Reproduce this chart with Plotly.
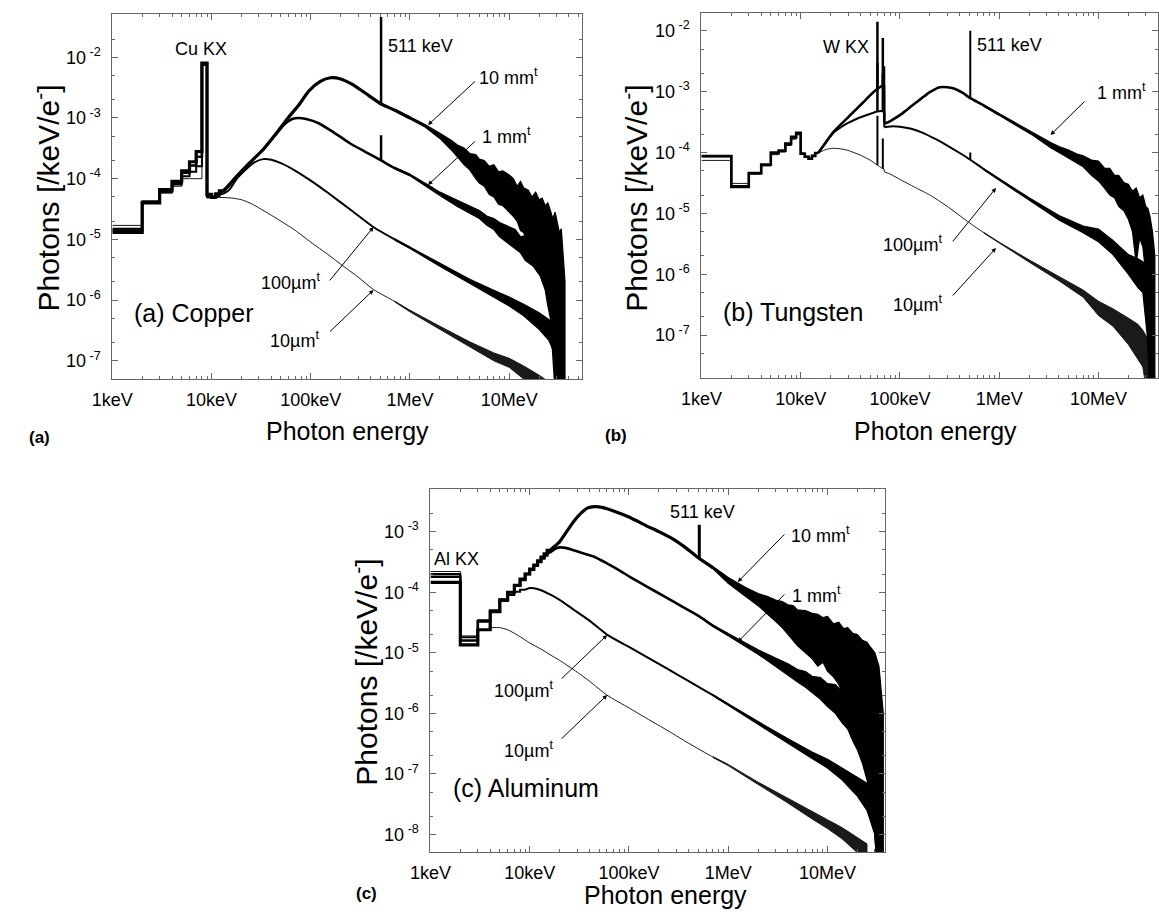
import plotly.graph_objects as go

W, H = 1159, 915
FONT = "Liberation Sans, Arial, Helvetica, sans-serif"

# ===================== DATA (energy in keV, spectrum in photons /keV/e-) =====================
# ---------- (a) Copper ----------
A_step_E = [1, 2, 3, 4, 5, 6, 7, 8, 9, 10, 11, 12, 13]
A10mm_step = [1.3e-5, 4.0e-5, 6.6e-5, 9.0e-5, 1.35e-4, 1.9e-4, 2.8e-4, 8.0e-3, 5.5e-5, 5.0e-5, 5.6e-5, 6.3e-5]
A1mm_step = [1.4e-5, 4.1e-5, 6.3e-5, 8.5e-5, 1.25e-4, 1.65e-4, 2.3e-4, 7.8e-3, 5.3e-5, 5.0e-5, 5.5e-5, 6.1e-5]
A100um_step = [1.5e-5, 4.2e-5, 6.0e-5, 8.0e-5, 1.1e-4, 1.3e-4, 1.6e-4, 7.6e-3, 5.0e-5, 4.8e-5, 5.2e-5, 5.6e-5]
A10um_step = [1.7e-5, 4.3e-5, 5.8e-5, 7.5e-5, 1.0e-4, 1.0e-4, 1.0e-4, 7.3e-3, 4.8e-5, 4.8e-5, 4.9e-5, 4.9e-5]

A10mm_E = [13, 14, 18, 24, 33, 45, 59, 75, 96, 125, 158, 200, 260, 350, 511, 700, 1000]
A10mm_V = [6.3e-5, 7.0e-5, 1.1e-4, 1.8e-4, 3.0e-4, 5.6e-4, 1.0e-3, 1.6e-3, 2.8e-3, 4.0e-3, 4.6e-3, 4.4e-3,
           3.6e-3, 2.6e-3, 1.7e-3, 1.35e-3, 1.0e-3]
A10mm_tE = [700, 1000, 1400, 2000, 2600, 3000, 3500, 4000, 4600, 5000, 5600, 6300, 7000, 7800, 8600, 10000,
            11000, 12000, 13000, 14000, 15500, 17000, 18500, 20000, 21500, 23000, 24500, 26000, 27500, 29000,
            30500, 32000, 33500, 35000, 36500]
A10mm_hi = [1.4e-3, 1.04e-3, 7.9e-4, 5.6e-4, 4.3e-4, 3.6e-4, 3.2e-4, 2.6e-4, 2.5e-4, 2.1e-4, 2.0e-4, 1.6e-4,
            1.7e-4, 1.3e-4, 1.35e-4, 1.15e-4, 1.0e-4, 7.5e-5, 9e-5, 7e-5, 6.5e-5, 5e-5, 6e-5, 4.5e-5, 4.8e-5,
            3.6e-5, 4e-5, 3e-5, 2.2e-5, 2.8e-5, 1.8e-5, 1.3e-5, 1.5e-5, 6e-6, 2e-6]
A10mm_lo = [1.3e-3, 9.6e-4, 7.2e-4, 4.6e-4, 3.0e-4, 2.3e-4, 1.7e-4, 1.4e-4, 1.0e-4, 8.5e-5, 7.5e-5, 5.5e-5,
            5e-5, 3.8e-5, 3.6e-5, 2.8e-5, 2.4e-5, 2.0e-5, 1.4e-5, 1.3e-5, 8e-6, 6e-6, 4e-6, 3e-6, 2e-6,
            1.5e-6, 8e-7, 5e-7, 1e-7, 3e-8, 1e-8, 1e-8, 1e-8, 1e-8, 1e-8]

A1mm_E = [13, 14, 18, 24, 33, 45, 55, 65, 75, 90, 120, 170, 250, 350, 511, 700, 1000]
A1mm_V = [6.1e-5, 6.8e-5, 1.1e-4, 1.8e-4, 3.0e-4, 5.5e-4, 8.0e-4, 9.6e-4, 1.0e-3, 9.6e-4, 8.2e-4, 5.8e-4,
          3.8e-4, 2.8e-4, 2.0e-4, 1.5e-4, 1.15e-4]
A1mm_tE = [700, 1000, 1500, 2000, 3000, 4000, 5000, 6000, 7000, 8000, 10000, 11500, 13000, 14500, 16000,
           17500, 19000, 20500, 22000, 24000, 26000, 28000, 30000, 32000, 34000]
A1mm_hi = [1.53e-4, 1.18e-4, 8.0e-5, 6.0e-5, 4.4e-5, 3.5e-5, 3.0e-5, 2.4e-5, 2.2e-5, 1.9e-5, 1.6e-5,
           1.45e-5, 1.1e-5, 1.15e-5, 8e-6, 7e-6, 9e-6, 8e-6, 1.1e-5, 9e-6, 1.1e-5, 7e-6, 8e-6, 4e-6, 1e-6]
A1mm_lo = [1.47e-4, 1.12e-4, 7.3e-5, 5.3e-5, 3.5e-5, 2.7e-5, 2.2e-5, 1.7e-5, 1.45e-5, 1.1e-5, 8.5e-6,
           7e-6, 6e-6, 4.5e-6, 4e-6, 3.6e-6, 3e-6, 2.5e-6, 2e-6, 1.2e-6, 8e-7, 3e-7, 5e-8, 2e-8, 1e-8]

A100um_E = [13, 15, 18, 22, 27, 33, 40, 50, 70, 100, 150, 250, 427, 700, 1000]
A100um_V = [5.6e-5, 6.5e-5, 1.0e-4, 1.4e-4, 1.85e-4, 2.1e-4, 2.05e-4, 1.8e-4, 1.35e-4, 9.3e-5, 5.8e-5,
            3.1e-5, 1.6e-5, 1.0e-5, 7.3e-6]
A100um_tE = [700, 1000, 2000, 4000, 7000, 10000, 14000, 20000, 25000, 30000, 33000, 35000]
A100um_hi = [1.02e-5, 7.5e-6, 4.0e-6, 2.2e-6, 1.45e-6, 1.12e-6, 8.5e-7, 6.2e-7, 4.8e-7, 3.8e-7, 2.5e-7, 5e-8]
A100um_lo = [9.8e-6, 7.1e-6, 3.6e-6, 1.85e-6, 1.12e-6, 8e-7, 5.5e-7, 3.3e-7, 2.2e-7, 1.1e-7, 5e-8, 1e-8]

A10um_E = [13, 16, 20, 25, 30, 40, 50, 70, 100, 150, 200, 300, 427, 700, 1000]
A10um_V = [4.9e-5, 4.8e-5, 4.5e-5, 3.9e-5, 3.3e-5, 2.5e-5, 2.0e-5, 1.4e-5, 9.0e-6, 5.6e-6, 3.9e-6,
           2.4e-6, 1.5e-6, 9.5e-7, 6.6e-7]
A10um_tE = [700, 1000, 2000, 4000, 7000, 10000, 14000, 20000, 25000]
A10um_hi = [9.6e-7, 6.8e-7, 3.7e-7, 2.05e-7, 1.35e-7, 1.1e-7, 8.2e-8, 5.8e-8, 4.5e-8]
A10um_lo = [9.4e-7, 6.4e-7, 3.3e-7, 1.7e-7, 1.0e-7, 7.8e-8, 5e-8, 2.8e-8, 1.5e-8]

A_511_base = [1.7e-3, 2.0e-4]      # 10 mm, 1 mm
A_511_peak = [4.6e-2, 5.2e-4]

# ---------- (b) Tungsten ----------
B_step_E = [1, 2, 3, 4, 5, 6, 7, 8, 9, 10, 11, 12, 13, 14, 15]
B1mm_step = [8.7e-5, 2.7e-5, 4.6e-5, 6.3e-5, 1.0e-4, 1.07e-4, 1.4e-4, 1.8e-4, 2.1e-4, 9.5e-5, 8.5e-5,
             7.9e-5, 8.8e-5, 9.8e-5]
B100um_step = [8.7e-5, 2.8e-5, 4.5e-5, 6.2e-5, 9.6e-5, 1.05e-4, 1.35e-4, 1.75e-4, 2.0e-4, 9.5e-5, 8.5e-5,
               7.9e-5, 8.8e-5, 9.8e-5]
B10um_step = [7.4e-5, 3.1e-5, 4.4e-5, 6.0e-5, 9.2e-5, 1.02e-4, 1.3e-4, 1.65e-4, 2.0e-4, 9.8e-5, 8.6e-5,
              8.0e-5, 8.8e-5, 9.8e-5]

B1mm_preE = [15, 17, 21, 26, 33, 42, 52.6, 59, 64, 69.4]
B1mm_preV = [9.8e-5, 1.3e-4, 2.1e-4, 3.0e-4, 4.4e-4, 6.5e-4, 9.4e-4, 1.1e-3, 1.2e-3, 1.3e-3]
B1mm_postE = [69.6, 75, 83, 100, 117, 140, 166, 200, 252, 300, 350, 430, 511, 700, 1000]
B1mm_postV = [3.0e-4, 3.1e-4, 3.4e-4, 4.1e-4, 5.0e-4, 6.3e-4, 7.8e-4, 9.8e-4, 1.18e-3, 1.18e-3, 1.12e-3,
              9.5e-4, 7.8e-4, 5.9e-4, 4.2e-4]
B1mm_tE = [700, 1000, 1500, 2200, 3300, 4000, 5000, 6000, 7000, 8500, 10000, 11500, 13000, 14500, 16000,
           18000, 20000, 22000, 24000, 26000, 28000, 30000, 31500, 33000, 35000, 37000]
B1mm_hi = [6.0e-4, 4.3e-4, 2.95e-4, 2.1e-4, 1.45e-4, 1.25e-4, 1.1e-4, 9.5e-5, 8.8e-5, 7.5e-5, 7.2e-5,
           5.5e-5, 5.5e-5, 4.2e-5, 4.2e-5, 3.2e-5, 3.0e-5, 2.3e-5, 2.6e-5, 1.8e-5, 2.0e-5, 1.3e-5, 1.2e-5,
           9e-6, 5e-6, 2e-6]
B1mm_lo = [5.8e-4, 4.1e-4, 2.75e-4, 1.9e-4, 1.2e-4, 1.0e-4, 8.2e-5, 6.8e-5, 5.8e-5, 4.2e-5, 3.4e-5,
           2.6e-5, 2.0e-5, 1.8e-5, 1.3e-5, 1.1e-5, 8e-6, 5e-6, 1.5e-6, 4e-6, 2.8e-6, 1e-6, 5e-7, 1e-8,
           1e-8, 1e-8]

B100um_preE = [15, 17, 21, 25, 30, 35, 42, 50, 59, 65, 69.4]
B100um_preV = [9.8e-5, 1.3e-4, 2.05e-4, 2.55e-4, 3.05e-4, 3.45e-4, 3.9e-4, 4.3e-4, 4.7e-4, 4.8e-4, 4.6e-4]
B100um_postE = [69.6, 75, 85, 100, 130, 170, 230, 300, 400, 511, 700, 1000]
B100um_postV = [2.6e-4, 2.65e-4, 2.7e-4, 2.65e-4, 2.45e-4, 2.1e-4, 1.65e-4, 1.3e-4, 9.8e-5, 7.6e-5, 5.3e-5, 3.6e-5]
B100um_tE = [700, 1000, 2000, 4000, 7000, 10000, 14000, 20000, 25000, 28000, 31000, 33000, 35000]
B100um_hi = [5.4e-5, 3.7e-5, 1.8e-5, 9.2e-6, 6.2e-6, 5.5e-6, 3.6e-6, 2.1e-6, 1.8e-6, 1.6e-6, 1.2e-6, 8e-7, 2e-7]
B100um_lo = [5.2e-5, 3.5e-5, 1.65e-5, 7.8e-6, 4.8e-6, 3.4e-6, 2.1e-6, 1.0e-6, 6e-7, 5e-7, 1e-7, 1e-8, 1e-8]

B10um_preE = [15, 18, 21, 25, 30, 40, 50, 59, 65, 69.4]
B10um_preV = [9.8e-5, 1.12e-4, 1.17e-4, 1.15e-4, 1.08e-4, 9.0e-5, 7.5e-5, 6.2e-5, 5.6e-5, 5.3e-5]
B10um_postE = [69.6, 80, 100, 140, 200, 300, 500, 700, 1000]
B10um_postV = [4.8e-5, 4.4e-5, 3.6e-5, 2.7e-5, 2.0e-5, 1.3e-5, 7.0e-6, 4.8e-6, 3.3e-6]
B10um_tE = [700, 1000, 2000, 4000, 7000, 10000, 14000, 20000, 25000, 28000, 31000, 33000, 34500]
B10um_hi = [4.85e-6, 3.35e-6, 1.72e-6, 9.0e-7, 5.5e-7, 3.6e-7, 2.7e-7, 1.9e-7, 1.5e-7, 1.2e-7, 9e-8, 5e-8, 2e-8]
B10um_lo = [4.75e-6, 3.25e-6, 1.58e-6, 7.8e-7, 4.2e-7, 2.1e-7, 1.4e-7, 7e-8, 4e-8, 3e-8, 1e-8, 1e-9, 1e-9]

B_kx_E = [59.3, 67.2, 69.1]
B1mm_kx_base = [1.1e-3, 1.25e-3, 1.3e-3]
B1mm_kx_peak = [1.4e-2, 7.6e-3, 2.6e-3]
B100um_kx_base = [4.7e-4, 4.8e-4]
B100um_kx_peak = [3.0e-3, 2.0e-3]
B10um_kx_base = [6.2e-5, 5.4e-5]
B10um_kx_peak = [4.0e-4, 1.7e-4]
B_511_base = [7.8e-4, 7.6e-5]      # 1 mm, 100 um
B_511_peak = [1.0e-2, 1.0e-4]

# ---------- (c) Aluminum ----------
C_step_E = [1, 2, 3, 4, 5, 6, 7, 8, 9, 10, 11, 12, 13, 14, 15, 16]
C10mm_step = [1.45e-4, 1.35e-5, 2.4e-5, 4.8e-5, 7.5e-5, 1.0e-4, 1.3e-4, 1.65e-4, 2.0e-4, 2.4e-4, 2.8e-4,
              3.3e-4, 3.8e-4, 4.3e-4, 4.9e-4]
C1mm_step = [1.8e-4, 1.6e-5, 3.3e-5, 5.0e-5, 7.5e-5, 1.0e-4, 1.3e-4, 1.6e-4, 2.0e-4, 2.35e-4, 2.75e-4,
             3.15e-4, 3.6e-4, 4.05e-4, 4.5e-4]
C100um_step_E = [1, 2, 3, 4, 5, 6, 7, 8, 9]
C100um_step = [2.0e-4, 1.8e-5, 3.4e-5, 4.7e-5, 7.2e-5, 9.0e-5, 1.02e-4, 1.1e-4]
C10um_step_E = [1, 2, 3, 4]
C10um_step = [2.2e-4, 1.9e-5, 3.5e-5]

C10mm_E = [16, 18, 20, 22, 24.2, 28, 32.7, 38, 45, 55, 70, 100, 150, 200, 276, 380, 511, 700]
C10mm_V = [4.9e-4, 5.8e-4, 6.8e-4, 8.5e-4, 1.07e-3, 1.5e-3, 2.0e-3, 2.45e-3, 2.6e-3, 2.5e-3, 2.2e-3,
           1.75e-3, 1.25e-3, 1.0e-3, 7.6e-4, 5.3e-4, 3.6e-4, 2.55e-4]
C10mm_tE = [511, 700, 1000, 1500, 2000, 2500, 3000, 3500, 4000, 4500, 5000, 6000, 7000, 8000, 9000, 10000,
            11500, 13000, 14500, 16000, 18000, 20000, 22500, 25000, 27500, 30000, 33000, 35000, 36500]
C10mm_hi = [3.7e-4, 2.65e-4, 1.75e-4, 1.2e-4, 9.5e-5, 8.5e-5, 7.4e-5, 7e-5, 6.2e-5, 6e-5, 5.1e-5, 5e-5,
            4.5e-5, 4.3e-5, 3.8e-5, 4e-5, 3.0e-5, 3.2e-5, 2.5e-5, 2.6e-5, 2.1e-5, 2e-5, 1.6e-5, 1.5e-5,
            1.2e-5, 1e-5, 6e-6, 2e-6, 1e-6]
C10mm_lo = [3.5e-4, 2.45e-4, 1.4e-4, 8.5e-5, 6e-5, 4.3e-5, 3.3e-5, 2.6e-5, 2.0e-5, 1.6e-5, 1.3e-5, 1.0e-5,
            8e-6, 6e-6, 7e-6, 5e-6, 4e-6, 3e-6, 2e-6, 1.5e-6, 8e-7, 8e-7, 3e-7, 1e-7, 3e-8, 1e-8, 1e-9,
            1e-9, 1e-9]

C1mm_E = [16, 18, 20, 23, 27, 33, 44, 60, 80, 102, 150, 220, 330, 511, 700, 1000]
C1mm_V = [4.5e-4, 5.2e-4, 5.5e-4, 5.4e-4, 5.0e-4, 4.5e-4, 3.9e-4, 3.0e-4, 2.3e-4, 1.8e-4, 1.25e-4, 8.8e-5,
          6.0e-5, 4.0e-5, 2.8e-5, 2.0e-5]
C1mm_tE = [700, 1000, 2000, 3000, 4000, 5000, 6000, 7000, 8500, 10000, 12000, 14000, 16000, 18000, 20000,
           22500, 25000, 27500, 30000, 33000, 35000]
C1mm_hi = [2.85e-5, 2.08e-5, 1.12e-5, 8.2e-6, 6.6e-6, 5.3e-6, 4.9e-6, 4.1e-6, 3.9e-6, 3.1e-6, 3.0e-6,
           2.3e-6, 2.3e-6, 1.7e-6, 1.6e-6, 1.5e-6, 1.3e-6, 1.2e-6, 1e-6, 5e-7, 1e-7]
C1mm_lo = [2.75e-5, 1.92e-5, 9.5e-6, 6.0e-6, 4.3e-6, 3.3e-6, 2.7e-6, 2.2e-6, 1.7e-6, 1.3e-6, 1.0e-6,
           7e-7, 5.5e-7, 3.5e-7, 2.5e-7, 1.5e-7, 8e-8, 4e-8, 1e-8, 1e-9, 1e-9]

C100um_E = [9, 10, 11, 13, 16, 20, 28, 40, 60, 100, 150, 250, 400, 700, 1000]
C100um_V = [1.1e-4, 1.17e-4, 1.16e-4, 1.08e-4, 9.2e-5, 7.5e-5, 5.1e-5, 3.4e-5, 2.0e-5, 1.25e-5, 8.6e-6,
            5.3e-6, 3.4e-6, 2.0e-6, 1.4e-6]
C100um_tE = [700, 1000, 2000, 4000, 7000, 10000, 14000, 20000, 25000, 30000, 33000]
C100um_hi = [2.03e-6, 1.43e-6, 7.3e-7, 3.8e-7, 2.3e-7, 1.75e-7, 1.25e-7, 8.8e-8, 7e-8, 5e-8, 2e-8]
C100um_lo = [1.97e-6, 1.37e-6, 6.7e-7, 3.2e-7, 1.8e-7, 1.25e-7, 8e-8, 4.3e-8, 2.5e-8, 1e-8, 1e-9]

C10um_E = [4, 5, 6, 7, 8, 10, 13, 16, 20, 28, 40, 60, 100, 150, 250, 400, 700, 1000]
C10um_V = [2.6e-5, 2.6e-5, 2.4e-5, 2.1e-5, 1.85e-5, 1.45e-5, 1.15e-5, 9.3e-6, 7.5e-6, 5.2e-6, 3.4e-6,
           2.0e-6, 1.23e-6, 8.3e-7, 5.1e-7, 3.2e-7, 1.9e-7, 1.4e-7]
C10um_tE = [700, 1000, 2000, 4000, 7000, 10000, 14000, 20000, 25000]
C10um_hi = [1.93e-7, 1.43e-7, 7.3e-8, 3.9e-8, 2.35e-8, 1.75e-8, 1.3e-8, 9e-9, 7e-9]
C10um_lo = [1.87e-7, 1.37e-7, 6.7e-8, 3.3e-8, 1.8e-8, 1.25e-8, 8.5e-9, 5e-9, 3e-9]

C_511_base = [3.6e-4]
C_511_peak = [1.3e-3]

# axis labels
X_TICKS = [1, 10, 100, 1000, 10000]
X_TICKTEXT = ["1keV", "10keV", "100keV", "1MeV", "10MeV"]

# ===================== FIGURE =====================
fig = go.Figure()
AX = {"a": ("x", "y"), "b": ("x2", "y2"), "c": ("x3", "y3")}
W10mm, W1mm, W100um, W10um = 3.2, 2.6, 2.0, 1.0
COL = "black"


def line(ax, x, y, width, shape="linear", color=COL):
    xa, ya = AX[ax]
    fig.add_trace(go.Scatter(x=x, y=y, mode="lines", xaxis=xa, yaxis=ya, hoverinfo="skip",
                             line=dict(width=width, color=color, shape=shape,
                                       smoothing=0.6 if shape == "spline" else None)))


def curve(ax, stepE, stepV, segs, tE, thi, tlo, width, color=COL):
    line(ax, stepE, list(stepV) + [stepV[-1]], width, "hv", color)
    prev = None
    for E, V in segs:
        if prev is not None:
            line(ax, [prev[0], E[0]], [prev[1], V[0]], width, "linear", color)
        line(ax, E, V, width, "spline", color)
        prev = (E[-1], V[-1])
    xa, ya = AX[ax]
    fig.add_trace(go.Scatter(x=list(tE) + list(tE)[::-1], y=list(thi) + list(tlo)[::-1], mode="lines",
                             fill="toself", fillcolor=color, xaxis=xa, yaxis=ya, hoverinfo="skip",
                             line=dict(width=min(width, 1.2), color=color)))


def spikes(ax, E, base, peak, width):
    for e, b, p in zip(E, base, peak):
        line(ax, [e, e], [b, p], width)


# (a) Copper
curve("a", A_step_E, A10um_step, [(A10um_E, A10um_V)], A10um_tE, A10um_hi, A10um_lo, W10um, "#1a1a1a")
curve("a", A_step_E, A100um_step, [(A100um_E, A100um_V)], A100um_tE, A100um_hi, A100um_lo, W100um)
curve("a", A_step_E, A1mm_step, [(A1mm_E, A1mm_V)], A1mm_tE, A1mm_hi, A1mm_lo, W1mm)
curve("a", A_step_E, A10mm_step, [(A10mm_E, A10mm_V)], A10mm_tE, A10mm_hi, A10mm_lo, W10mm)
spikes("a", [511, 511], A_511_base, A_511_peak, 2.5)

# (b) Tungsten
curve("b", B_step_E, B10um_step, [(B10um_preE, B10um_preV), (B10um_postE, B10um_postV)],
      B10um_tE, B10um_hi, B10um_lo, W10um, "#1a1a1a")
curve("b", B_step_E, B100um_step, [(B100um_preE, B100um_preV), (B100um_postE, B100um_postV)],
      B100um_tE, B100um_hi, B100um_lo, W100um)
curve("b", B_step_E, B1mm_step, [(B1mm_preE, B1mm_preV), (B1mm_postE, B1mm_postV)],
      B1mm_tE, B1mm_hi, B1mm_lo, W1mm)
spikes("b", B_kx_E[:2], B10um_kx_base, B10um_kx_peak, 2.0)
spikes("b", B_kx_E[:2], B100um_kx_base, B100um_kx_peak, 2.5)
spikes("b", B_kx_E, B1mm_kx_base, B1mm_kx_peak, 2.5)
spikes("b", [511, 511], B_511_base, B_511_peak, 2.0)

# (c) Aluminum
curve("c", C10um_step_E, C10um_step, [(C10um_E, C10um_V)], C10um_tE, C10um_hi, C10um_lo, W10um, "#1a1a1a")
curve("c", C100um_step_E, C100um_step, [(C100um_E, C100um_V)], C100um_tE, C100um_hi, C100um_lo, W100um)
curve("c", C_step_E, C1mm_step, [(C1mm_E, C1mm_V)], C1mm_tE, C1mm_hi, C1mm_lo, W1mm)
curve("c", C_step_E, C10mm_step, [(C10mm_E, C10mm_V)], C10mm_tE, C10mm_hi, C10mm_lo, W10mm)
spikes("c", [511], C_511_base, C_511_peak, 3.0)

# ===================== AXES =====================
AXC = "#666"
x_minor = [k * 10 ** d for d in range(0, 5) for k in range(2, 10)]
y_minor = [m * 10.0 ** d for d in range(-10, 0) for m in (2, 5)]


def xaxis(dom, rng, anchor):
    return dict(type="log", domain=dom, range=rng, anchor=anchor, showgrid=False, zeroline=False,
                showline=True, linecolor=AXC, linewidth=1, mirror="ticks", ticks="inside", ticklen=6,
                tickcolor=AXC, tickwidth=1, tickmode="array", tickvals=X_TICKS, ticktext=X_TICKTEXT,
                tickfont=dict(family=FONT, size=18, color="black"), ticklabelstandoff=4,
                minor=dict(tickmode="array", tickvals=x_minor, ticks="inside", ticklen=3,
                           tickcolor=AXC, tickwidth=1, showgrid=False))


def yaxis(dom, rng, anchor, exps):
    return dict(type="log", domain=dom, range=rng, anchor=anchor, showgrid=False, zeroline=False,
                showline=True, linecolor=AXC, linewidth=1, mirror="ticks", ticks="inside", ticklen=6,
                tickcolor=AXC, tickwidth=1, tickmode="array", tickvals=[10.0 ** e for e in exps],
                ticktext=["10<sup> %d</sup>" % e for e in exps],
                tickfont=dict(family=FONT, size=18, color="black"), ticklabelstandoff=7,
                minor=dict(tickmode="array", tickvals=y_minor, ticks="inside", ticklen=3,
                           tickcolor=AXC, tickwidth=1, showgrid=False))


def px(x):
    return x / W


def py(y):
    return 1 - y / H


fig.update_layout(
    width=W, height=H, margin=dict(l=0, r=0, t=0, b=0),
    paper_bgcolor="white", plot_bgcolor="white", showlegend=False,
    font=dict(family=FONT, color="black"),
    xaxis=xaxis([px(93), px(571)], [0, 4.73], "y"),
    yaxis=yaxis([py(379), py(14)], [-7.30, -1.287], "x", [-7, -6, -5, -4, -3, -2]),
    xaxis2=xaxis([px(693), px(1158)], [0, 4.60], "y2"),
    yaxis2=yaxis([py(378.3), py(13.3)], [-7.71, -1.714], "x2", [-7, -6, -5, -4, -3, -2]),
    xaxis3=xaxis([px(417), px(880)], [0, 4.58], "y3"),
    yaxis3=yaxis([py(852), py(489)], [-8.29, -2.295], "x3", [-8, -7, -6, -5, -4, -3]),
)

# ===================== TEXT =====================
ann = []


def text(x, y, s, size=18, angle=0, bold=False):
    if bold:
        s = "<b>%s</b>" % s
    ann.append(dict(x=px(x), y=py(y), xref="paper", yref="paper", text=s, showarrow=False,
                    xanchor="center", yanchor="middle", textangle=angle,
                    font=dict(family=FONT, size=size, color="black")))


def arrow(tail, tip):
    ann.append(dict(x=px(tip[0]), y=py(tip[1]), xref="paper", yref="paper", text="", showarrow=True,
                    ax=tail[0] - tip[0], ay=tail[1] - tip[1], arrowhead=2, arrowsize=0.9,
                    arrowwidth=1, arrowcolor="black", standoff=0))


# (a)
text(183, 49, "Cu KX")
text(407, 46, "511 keV")
text(497, 76, "10 mm<sup>t</sup>")
text(494, 136, "1 mm<sup>t</sup>")
text(274, 281, "100µm<sup>t</sup>")
text(279, 339, "10µm<sup>t</sup>")
arrow((463, 80), (414.5, 125))
arrow((463, 140), (414.5, 185))
arrow((314, 282), (359, 227))
arrow((314, 333), (359, 290))
text(176, 313, "(a) Copper", 25)
text(19, 437, "(a)", 17, bold=True)
text(333, 431, "Photon energy", 25)
text(26, 198, "Photons [/keV/e<sup>-</sup>]", 30, angle=-90)
# (b)
text(840, 47, "W KX")
text(1007, 45, "511 keV")
text(1121, 91, "1 mm<sup>t</sup>")
text(908, 244, "100µm<sup>t</sup>")
text(913, 303, "10µm<sup>t</sup>")
arrow((1084, 100), (1048.5, 135))
arrow((948.5, 243), (993, 188))
arrow((948.5, 297), (993, 248))
text(786, 312, "(b) Tungsten", 25)
text(606, 435, "(b)", 17, bold=True)
text(931, 431, "Photon energy", 25)
text(625, 198, "Photons [/keV/e<sup>-</sup>]", 30, angle=-90)
# (c)
text(444, 559, "Al KX")
text(694, 512, "511 keV")
text(814, 534, "10 mm<sup>t</sup>")
text(810, 594, "1 mm<sup>t</sup>")
text(512, 689, "100µm<sup>t</sup>")
text(517, 749, "10µm<sup>t</sup>")
arrow((778, 533), (730, 582))
arrow((778, 593), (730, 642))
arrow((550, 680), (597, 635))
arrow((550, 740), (597, 695))
text(514, 788, "(c) Aluminum", 25)
text(352, 893, "(c)", 17, bold=True)
text(656, 895, "Photon energy", 25)
text(350, 672, "Photons [/keV/e<sup>-</sup>]", 30, angle=-90)

fig.update_layout(annotations=ann)
fig.write_html("out.html")
